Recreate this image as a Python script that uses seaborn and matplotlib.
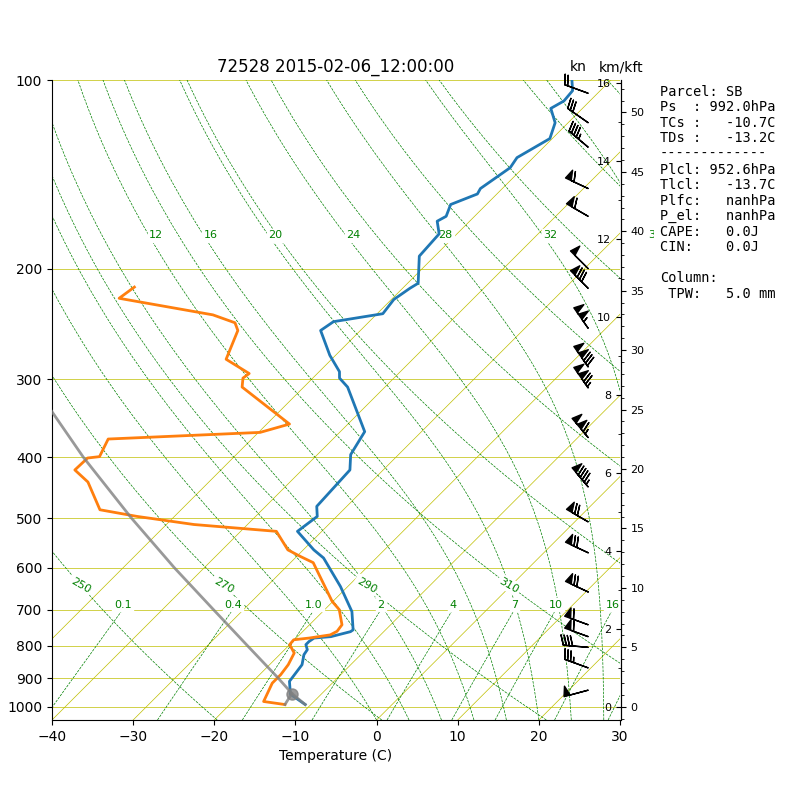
import numpy as np
import pandas as pd
import matplotlib
matplotlib.use("Agg")
import matplotlib.pyplot as plt
import matplotlib.transforms as mtransforms
from matplotlib.ticker import FixedLocator, NullLocator, FormatStrFormatter, MultipleLocator
import seaborn as sns

TITLE = "72528 2015-02-06_12:00:00"

# --- sounding (hPa, degC) ---
t_pres = [992, 955, 911, 857, 826, 811, 796, 787, 777, 773, 759, 754, 705, 643,
          579, 562, 525, 497, 479, 419, 396, 364, 309, 299, 292, 275, 251, 243,
          236, 224, 215, 211, 191, 176, 168, 165, 158, 152, 149, 138, 133, 124,
          117, 111, 108, 104, 100]
t_temp = [-10.7, -13.8, -15.5, -16.0, -17.0, -17.2, -18.0, -18.0, -17.8, -15.9,
          -14.1, -14.0, -16.4, -20.9, -26.5, -28.7, -33.0, -32.4, -33.7, -34.1,
          -35.9, -37.0, -44.6, -46.7, -47.5, -50.7, -54.9, -54.4, -49.3, -49.7,
          -49.1, -48.7, -51.9, -52.2, -54.0, -53.5, -54.4, -52.4, -52.7, -51.6,
          -52.0, -50.3, -51.6, -53.9, -53.2, -53.4, -54.8]

td_pres = [992, 981, 917, 889, 857, 821, 796, 782, 777, 768, 758, 740, 700, 679,
           589, 576, 562, 525, 512, 497, 485, 438, 419, 401, 399, 374, 365, 354,
           309, 299, 294, 279, 251, 244, 237, 223, 214]
td_dwpt = [-13.2, -16.2, -17.4, -17.4, -17.7, -18.4, -20.0, -20.1, -18.4, -16.2,
           -15.8, -16.0, -18.2, -20.1, -27.2, -29.5, -31.9, -35.6, -46.6, -54.6,
           -60.0, -64.9, -68.0, -67.9, -66.6, -67.7, -49.8, -47.2, -57.6, -58.6,
           -58.4, -63.0, -65.1, -66.4, -70.1, -83.7, -83.2]

# lifted surface parcel
sfc_pres, sfc_temp, sfc_dwpt = 992.0, -10.7, -13.2
lcl_pres, lcl_temp = 952.6, -13.7
parcel_pres = [992, 952.6, 900, 800, 700, 600, 500, 400, 330, 300]
parcel_temp = [-10.7, -13.7, -17.3, -25.0, -33.7, -43.7, -55.1, -68.5, -79.4, -84.6]

# winds (hPa, knots, direction from)
wind_pres = [105, 117, 128, 149, 165, 200, 215, 249, 287, 310, 372, 446, 507,
             568, 656, 740, 773, 804, 867, 941]
wind_spd = [20, 30, 45, 60, 60, 50, 80, 105, 130, 125, 115, 95, 70, 70, 70, 60,
            60, 40, 35, 50]
wind_dir = [290, 305, 310, 295, 300, 315, 315, 325, 325, 325, 320, 320, 300,
            295, 295, 290, 290, 275, 290, 255]

INFO = ("Parcel: SB\n"
        "Ps  : 992.0hPa\n"
        "TCs :   -10.7C\n"
        "TDs :   -13.2C\n"
        "-------------\n"
        "Plcl: 952.6hPa\n"
        "Tlcl:   -13.7C\n"
        "Plfc:   nanhPa\n"
        "P_el:   nanhPa\n"
        "CAPE:   0.0J\n"
        "CIN:    0.0J\n"
        "\n"
        "Column:\n"
        " TPW:   5.0 mm")

# --- diagram furniture ---
isotherms = list(range(-50, 40, 10))
isobars = list(range(100, 1001, 100))
dry_theta = list(range(210, 551, 20))
dry_label_theta = [250, 270, 290, 310]
moist_t0 = list(range(0, 45, 4))
moist_label_t0 = [12, 16, 20, 24, 28, 32, 36]
mix_w = [0.1, 0.4, 1.0, 2, 4, 7, 10, 16, 24, 32]
mix_text = ["0.1", "0.4", "1.0", "2", "4", "7", "10", "16", "24", "32"]

PBOT, PTOP, TMIN, TMAX = 1050.0, 100.0, -40.0, 30.0
RD, CP, EPS = 287.04, 1004.6, 0.622


def sat_vap(tc):
    return 6.112 * np.exp(17.67 * tc / (tc + 243.12))


def latent(tc):
    return 1000.0 * (2500.8 - 2.36 * tc + 0.0016 * tc ** 2 - 0.00006 * tc ** 3)


def dew_from_mix(w, p):
    e = w * p / (622.0 + w)
    lg = np.log(e / 6.112)
    return 243.5 * lg / (17.67 - lg)


def moist_slope(tk, p):
    tc = tk - 273.15
    es = sat_vap(tc)
    ws = EPS * es / (p - es)
    tv = tk * (1.0 + ws / EPS) / (1.0 + ws)
    lv = latent(tc)
    a = 1.0 + lv * ws / (RD * tk)
    b = 1.0 + EPS * lv * lv * ws / (CP * RD * tk * tk)
    rho = p * 100.0 / (RD * tv)
    return (a / b) / (CP * rho) * 100.0


def moist_adiabat(t0, p):
    out = [t0 + 273.15]
    for i in range(1, len(p)):
        dp = p[i] - p[i - 1]
        tk = out[-1]
        k1 = moist_slope(tk, p[i - 1])
        k2 = moist_slope(tk + k1 * dp, p[i])
        out.append(tk + 0.5 * (k1 + k2) * dp)
    return np.array(out) - 273.15


FW, FH = 8, 8
AX_RECT = [0.065, 0.1, 0.71, 0.8]
fig = plt.figure(figsize=(FW, FH), dpi=100)
ax = fig.add_axes(AX_RECT)
ax.set_yscale("log")
ax.set_ylim(PBOT, PTOP)
ax.set_xlim(TMIN, TMAX)

# 45 degree skew (in pixels), anchored at the bottom of the axes
w_px, h_px = AX_RECT[2] * FW, AX_RECT[3] * FH
skew = mtransforms.Affine2D().skew(np.arctan(h_px / w_px), 0)
trans = ax.transScale + ax.transLimits + skew + ax.transAxes

for p in isobars:
    ax.axhline(p, color="y", lw=0.5, zorder=1)
for t in isotherms:
    ax.plot([t, t], [PBOT, PTOP], color="y", lw=0.5, transform=trans, zorder=1)

pp = np.linspace(PBOT, PTOP, 200)
for th in dry_theta:
    tt = th * (pp / 1000.0) ** (RD / CP) - 273.15
    ax.plot(tt, pp, color="g", ls="--", lw=0.5, transform=trans, zorder=1)
    if th in dry_label_theta:
        pl = 640.0
        tl = th * (pl / 1000.0) ** (RD / CP) - 273.15
        ax.text(tl, pl, "%d" % th, transform=trans, fontsize=8, color="g",
                rotation=-30, ha="center", va="center",
                bbox=dict(facecolor="w", edgecolor="w", pad=1))

for t0 in moist_t0:
    tt = moist_adiabat(t0, pp)
    ax.plot(tt, pp, color="g", ls="--", lw=0.5, transform=trans, zorder=1)
    if t0 in moist_label_t0:
        pl = 177.0
        tl = np.interp(np.log(pl), np.log(pp[::-1]), tt[::-1])
        ax.text(tl, pl, "%d" % t0, transform=trans, fontsize=8, color="g",
                ha="left", va="center", clip_on=False,
                bbox=dict(facecolor="w", edgecolor="w", pad=1))

pm = np.linspace(PBOT, 700.0, 50)
for w, lab in zip(mix_w, mix_text):
    ax.plot(dew_from_mix(w, pm), pm, color="g", ls="--", lw=0.5, transform=trans, zorder=1)
    ax.text(dew_from_mix(w, 700.0), 700.0, lab, transform=trans, fontsize=8,
            color="g", ha="center", va="bottom", clip_on=True,
            bbox=dict(facecolor="w", edgecolor="w", pad=1))

# sounding lines
df_t = pd.DataFrame({"pres": t_pres, "temp": t_temp})
df_td = pd.DataFrame({"pres": td_pres, "dwpt": td_dwpt})
sns.lineplot(data=df_t, x="temp", y="pres", sort=False, estimator=None,
             color="C0", lw=2, transform=trans, ax=ax, zorder=4)
sns.lineplot(data=df_td, x="dwpt", y="pres", sort=False, estimator=None,
             color="C1", lw=2, transform=trans, ax=ax, zorder=4)

ax.plot(parcel_temp, parcel_pres, color="gray", lw=2, alpha=0.8, transform=trans, zorder=5)
ax.plot([sfc_dwpt, lcl_temp], [sfc_pres, lcl_pres], color="gray", lw=2, alpha=0.8,
        transform=trans, zorder=5)
ax.plot([lcl_temp], [lcl_pres], "o", color="gray", ms=8, alpha=0.8, transform=trans, zorder=5)

ax.set_ylim(PBOT, PTOP)
ax.set_xlim(TMIN, TMAX)
ax.xaxis.set_major_locator(MultipleLocator(10))
ax.yaxis.set_major_locator(FixedLocator(isobars))
ax.yaxis.set_major_formatter(FormatStrFormatter("%d"))
ax.yaxis.set_minor_locator(NullLocator())
ax.set_xlabel("Temperature (C)")
ax.set_ylabel("")
ax.spines["top"].set_visible(False)
ax.spines["right"].set_visible(False)
ax.set_title(TITLE, fontsize=12)

# wind barbs
wax = fig.add_axes(AX_RECT, sharey=ax, frameon=False)
wax.set_xlim(0, 1)
wd = np.deg2rad(wind_dir)
u = -np.array(wind_spd) * np.sin(wd)
v = -np.array(wind_spd) * np.cos(wd)
wax.barbs(np.full(len(wind_pres), 0.944), wind_pres, u, v, length=6, lw=1,
          clip_on=False)
wax.set_ylim(PBOT, PTOP)
wax.xaxis.set_visible(False)
wax.yaxis.set_visible(False)
fig.text(0.7225, 0.916, "kn", ha="center", va="center", fontsize=10)

# height axis
H_KM = 6.98
zb, zt = H_KM * np.log(1000.0 / PBOT), H_KM * np.log(1000.0 / PTOP)
hax = fig.add_axes([0.776, 0.1, 0.0001, 0.8])
hax.patch.set_visible(False)
for s in ["top", "bottom", "right"]:
    hax.spines[s].set_visible(False)
hax.set_xticks([])
hax.set_ylim(zb, zt)
hax.yaxis.set_major_locator(MultipleLocator(2))
hax.yaxis.set_minor_locator(MultipleLocator(1))
hax.tick_params(axis="y", labelsize=8)
kax = hax.twinx()
for s in ["top", "bottom", "left"]:
    kax.spines[s].set_visible(False)
kax.set_ylim(zb * 3.28084, zt * 3.28084)
kax.yaxis.set_major_locator(MultipleLocator(5))
kax.yaxis.set_minor_locator(MultipleLocator(1))
kax.tick_params(axis="y", labelsize=8)
fig.text(0.776, 0.916, "km/kft", ha="center", va="center", fontsize=10)

fig.text(0.825, 0.894, INFO, family="DejaVu Sans Mono", fontsize=9.8, va="top",
         ha="left", linespacing=1.14, zorder=10,
         bbox=dict(facecolor="w", edgecolor="none", pad=4))

fig.savefig("out.png", dpi=100)
